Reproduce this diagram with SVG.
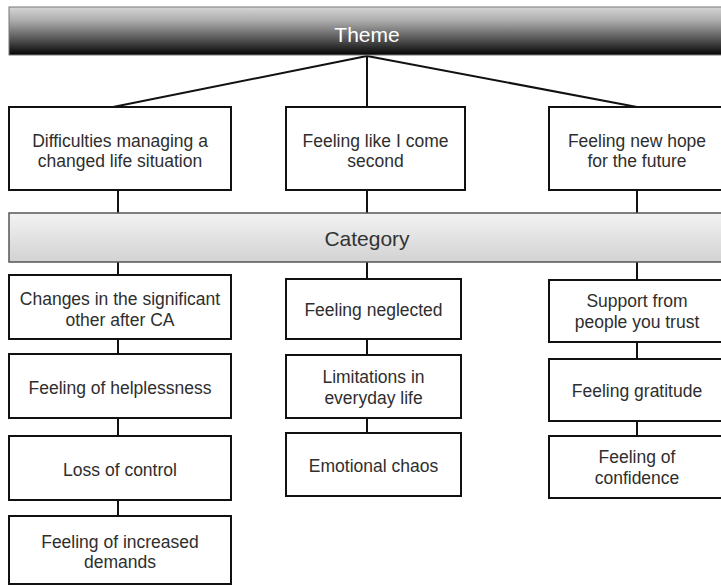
<svg xmlns="http://www.w3.org/2000/svg" width="721" height="586" viewBox="0 0 721 586">
<style>
  .box{fill:#ffffff;stroke:#111111;stroke-width:2}
  .t{font-family:"Liberation Sans",Arial,sans-serif;font-size:17.5px;fill:#2e2e2e;text-anchor:middle}
  .conn line{stroke:#111111;stroke-width:2}
  .bar-title{font-family:"Liberation Sans",Arial,sans-serif;font-size:21px;text-anchor:middle}
</style>
<defs>
  <linearGradient id="gTheme" x1="0" y1="0" x2="0" y2="1">
    <stop offset="0" stop-color="#d6d6d6"/>
    <stop offset="0.3" stop-color="#a9a9a9"/>
    <stop offset="0.7" stop-color="#4e4e4e"/>
    <stop offset="1" stop-color="#050505"/>
  </linearGradient>
  <linearGradient id="gCat" x1="0" y1="0" x2="0" y2="1">
    <stop offset="0" stop-color="#f3f3f3"/>
    <stop offset="1" stop-color="#d2d2d2"/>
  </linearGradient>
</defs>
<rect width="721" height="586" fill="#ffffff"/>

<g id="connectors" class="conn">
  <line x1="367" y1="56" x2="113" y2="107"/>
  <line x1="367" y1="56" x2="367" y2="107"/>
  <line x1="367" y1="56" x2="637" y2="107"/>
  <line x1="118" y1="190" x2="118" y2="213"/>
  <line x1="367" y1="190" x2="367" y2="213"/>
  <line x1="637" y1="190" x2="637" y2="213"/>
  <line x1="118" y1="262" x2="118" y2="275"/>
  <line x1="367" y1="262" x2="367" y2="279"/>
  <line x1="637" y1="262" x2="637" y2="280"/>
  <line x1="118" y1="339" x2="118" y2="354"/>
  <line x1="118" y1="418" x2="118" y2="436"/>
  <line x1="118" y1="500" x2="118" y2="516"/>
  <line x1="367" y1="339" x2="367" y2="355"/>
  <line x1="367" y1="418" x2="367" y2="433"/>
  <line x1="637" y1="342" x2="637" y2="359"/>
  <line x1="637" y1="421" x2="637" y2="436"/>
</g>

<g id="theme">
  <rect x="9" y="7" width="720" height="48" fill="url(#gTheme)" stroke="#777777" stroke-width="1"/>
  <text class="bar-title" x="367" y="42" fill="#ffffff">Theme</text>
</g>

<g id="theme1">
  <rect class="box" x="9" y="107" width="222" height="83"/>
  <text class="t" x="120" y="147">Difficulties managing a</text>
  <text class="t" x="120" y="167">changed life situation</text>
</g>
<g id="theme2">
  <rect class="box" x="286" y="107" width="179" height="83"/>
  <text class="t" x="375.5" y="147">Feeling like I come</text>
  <text class="t" x="375.5" y="167">second</text>
</g>
<g id="theme3">
  <rect class="box" x="549" y="107" width="180" height="83"/>
  <text class="t" x="637" y="147">Feeling new hope</text>
  <text class="t" x="637" y="167">for the future</text>
</g>

<g id="category">
  <rect x="9" y="213" width="720" height="49" fill="url(#gCat)" stroke="#555555" stroke-width="1.5"/>
  <text class="bar-title" x="367" y="246" fill="#333333">Category</text>
</g>

<g id="cat-l1">
  <rect class="box" x="9" y="275" width="222" height="64"/>
  <text class="t" x="120" y="305">Changes in the significant</text>
  <text class="t" x="120" y="326">other after CA</text>
</g>
<g id="cat-l2">
  <rect class="box" x="9" y="354" width="222" height="64"/>
  <text class="t" x="120" y="394">Feeling of helplessness</text>
</g>
<g id="cat-l3">
  <rect class="box" x="9" y="436" width="222" height="64"/>
  <text class="t" x="120" y="476">Loss of control</text>
</g>
<g id="cat-l4">
  <rect class="box" x="9" y="516" width="222" height="68"/>
  <text class="t" x="120" y="548">Feeling of increased</text>
  <text class="t" x="120" y="568">demands</text>
</g>

<g id="cat-m1">
  <rect class="box" x="286" y="279" width="175" height="60"/>
  <text class="t" x="373.5" y="316">Feeling neglected</text>
</g>
<g id="cat-m2">
  <rect class="box" x="286" y="355" width="175" height="63"/>
  <text class="t" x="373.5" y="383">Limitations in</text>
  <text class="t" x="373.5" y="404">everyday life</text>
</g>
<g id="cat-m3">
  <rect class="box" x="286" y="433" width="175" height="63"/>
  <text class="t" x="373.5" y="472">Emotional chaos</text>
</g>

<g id="cat-r1">
  <rect class="box" x="549" y="280" width="180" height="62"/>
  <text class="t" x="637" y="307">Support from</text>
  <text class="t" x="637" y="328">people you trust</text>
</g>
<g id="cat-r2">
  <rect class="box" x="549" y="359" width="180" height="62"/>
  <text class="t" x="637" y="397">Feeling gratitude</text>
</g>
<g id="cat-r3">
  <rect class="box" x="549" y="436" width="180" height="62"/>
  <text class="t" x="637" y="463">Feeling of</text>
  <text class="t" x="637" y="484">confidence</text>
</g>
</svg>
